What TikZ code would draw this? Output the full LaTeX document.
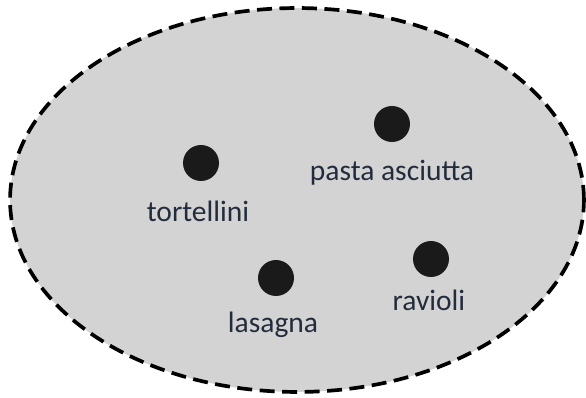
\documentclass[tikz,border=0pt]{standalone}
\usepackage{fontspec}
\setmainfont{Carlito}
\usepackage{xcolor}
\usepackage{tikz}
\usetikzlibrary{positioning}
\definecolor{setgray}{HTML}{D3D3D3}
\definecolor{dotblack}{HTML}{1A1A1A}
\definecolor{labeltext}{HTML}{222C3C}

\begin{document}
\begin{tikzpicture}[
  x=0.02cm, y=-0.02cm,
  every node/.style={font=\fontsize{16.8}{20}\selectfont, text=labeltext},
  setline/.style={draw=black, fill=setgray, line width=2.1pt,
                  dash pattern=on 0.3cm off 0.15cm},
  element/.style={circle, fill=dotblack, minimum size=0.72cm, inner sep=0pt}
]
  \useasboundingbox (0,0) rectangle (586,398);

  % The set
  \draw[setline] (297,200) ellipse [x radius=5.74cm, y radius=3.84cm];

  % Elements
  \node[element] (tort)  at (201,163) {};
  \node[element] (pasta) at (392,124) {};
  \node[element] (lasa)  at (276,278) {};
  \node[element] (ravi)  at (431,259) {};

  % Labels
  \node (tortlbl)  at (198,211) {tortellini};
  \node (pastalbl) at (392,173) {pasta asciutta};
  \node (lasalbl)  at (273,325) {lasagna};
  \node (ravilbl)  at (429,300) {ravioli};
\end{tikzpicture}
\end{document}
